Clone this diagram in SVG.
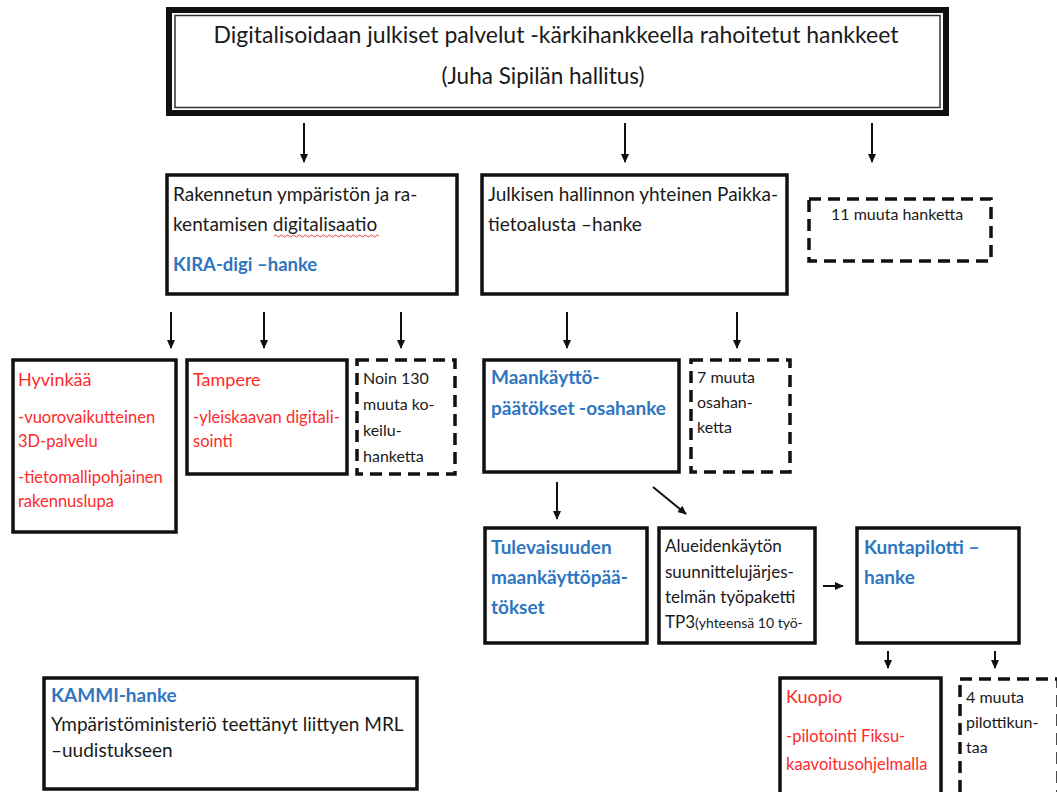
<svg xmlns="http://www.w3.org/2000/svg" width="1057" height="792" viewBox="0 0 1057 792">
  <defs>
    <marker id="ah" viewBox="0 0 10 10" refX="9" refY="5" markerWidth="4.5" markerHeight="4.5" orient="auto" markerUnits="strokeWidth">
      <path d="M0,0.5 L10,5 L0,9.5 Z" fill="#111"/>
    </marker>
    <style>
      text { font-family: Lato, "Liberation Sans", sans-serif; font-size: 16px; fill: #1a1a1a; }
      .box { fill: #fff; stroke: #111; stroke-width: 3.5; }
      .dash { fill: #fff; stroke: #111; stroke-width: 3.5; stroke-dasharray: 12 7; }
      .blue { fill: #2f76bf; font-weight: bold; font-size: 19px; }
      .red { fill: #ff2a2a; font-size: 16.5px; }
      .head { font-size: 18px; }
      .conn line { stroke: #111; stroke-width: 2; marker-end: url(#ah); }
    </style>
  </defs>
  <rect width="1057" height="792" fill="#fff"/>

  <!-- top programme box with double frame -->
  <g id="programme">
    <rect x="169" y="10" width="777" height="103" fill="#fff" stroke="#111" stroke-width="6"/>
    <rect x="175" y="15.5" width="765" height="92" fill="none" stroke="#333" stroke-width="1.5"/>
    <text x="556" y="43" text-anchor="middle" style="font-size:23px">Digitalisoidaan julkiset palvelut -kärkihankkeella rahoitetut hankkeet</text>
    <text x="543" y="84" text-anchor="middle" style="font-size:22.5px">(Juha Sipilän hallitus)</text>
  </g>

  <g class="conn" id="connectors">
    <line x1="304" y1="123" x2="304" y2="162"/>
    <line x1="625" y1="123" x2="625" y2="162"/>
    <line x1="872" y1="123" x2="872" y2="162"/>
    <line x1="171" y1="312" x2="171" y2="348"/>
    <line x1="264" y1="312" x2="264" y2="348"/>
    <line x1="401" y1="312" x2="401" y2="348"/>
    <line x1="567" y1="312" x2="567" y2="348"/>
    <line x1="737" y1="312" x2="737" y2="348"/>
    <line x1="557" y1="482" x2="557" y2="519"/>
    <line x1="653" y1="487" x2="686" y2="514"/>
    <line x1="823" y1="586" x2="843" y2="586"/>
    <line x1="888" y1="651" x2="888" y2="668"/>
    <line x1="995" y1="651" x2="995" y2="668"/>
  </g>

  <g id="kira">
    <rect class="box" x="167" y="175" width="290" height="119"/>
    <text x="173" y="201" style="font-size:19px">Rakennetun ympäristön ja ra-</text>
    <text x="173" y="231" style="font-size:19px">kentamisen digitalisaatio</text>
    <!-- spelling underline -->
    <path d="M274,236 q1.5,-2 3,0 t3,0 t3,0 t3,0 t3,0 t3,0 t3,0 t3,0 t3,0 t3,0 t3,0 t3,0 t3,0 t3,0 t3,0 t3,0 t3,0 t3,0 t3,0 t3,0 t3,0 t3,0 t3,0 t3,0 t3,0 t3,0 t3,0 t3,0 t3,0 t3,0 t3,0 t3,0 t3,0 t3,0 t3,0" fill="none" stroke="#e03030" stroke-width="0.9"/>
    <text x="173" y="271" class="blue" style="font-size:18.5px">KIRA-digi –hanke</text>
  </g>

  <g id="paikkatieto">
    <rect class="box" x="482" y="175" width="305" height="119"/>
    <text x="488" y="201" style="font-size:19px">Julkisen hallinnon yhteinen Paikka-</text>
    <text x="488" y="231" style="font-size:19px">tietoalusta –hanke</text>
  </g>

  <g id="muut-hankkeet">
    <rect class="dash" x="809" y="199" width="182" height="62"/>
    <text x="831" y="220" style="font-size:16px">11 muuta hanketta</text>
  </g>

  <g id="hyvinkaa">
    <rect class="box" x="13" y="360" width="163" height="172"/>
    <text x="18" y="386" class="red head">Hyvinkää</text>
    <text x="18" y="423" class="red">-vuorovaikutteinen</text>
    <text x="18" y="447" class="red">3D-palvelu</text>
    <text x="18" y="483" class="red">-tietomallipohjainen</text>
    <text x="18" y="507" class="red">rakennuslupa</text>
  </g>

  <g id="tampere">
    <rect class="box" x="187" y="360" width="160" height="114"/>
    <text x="193" y="386" class="red head">Tampere</text>
    <text x="193" y="423" class="red">-yleiskaavan digitali-</text>
    <text x="193" y="447" class="red">sointi</text>
  </g>

  <g id="kokeiluhankkeet">
    <rect class="dash" x="357" y="360" width="98" height="114"/>
    <text x="363" y="384">Noin 130</text>
    <text x="363" y="410">muuta ko-</text>
    <text x="363" y="436">keilu-</text>
    <text x="363" y="462">hanketta</text>
  </g>

  <g id="maankaytto">
    <rect class="box" x="484" y="360" width="195" height="112"/>
    <text x="491" y="384" class="blue">Maankäyttö-</text>
    <text x="491" y="415" class="blue">päätökset -osahanke</text>
  </g>

  <g id="osahankkeet">
    <rect class="dash" x="691" y="360" width="99" height="112"/>
    <text x="697" y="383">7 muuta</text>
    <text x="697" y="408">osahan-</text>
    <text x="697" y="433">ketta</text>
  </g>

  <g id="tulevaisuus">
    <rect class="box" x="485" y="528" width="162" height="115"/>
    <text x="491" y="554" class="blue">Tulevaisuuden</text>
    <text x="491" y="584" class="blue">maankäyttöpää-</text>
    <text x="491" y="614" class="blue">tökset</text>
  </g>

  <g id="alueidenkaytto">
    <rect class="box" x="659" y="528" width="156" height="115"/>
    <text x="665" y="552" style="font-size:17px">Alueidenkäytön</text>
    <text x="665" y="578" style="font-size:17px">suunnittelujärjes-</text>
    <text x="665" y="603" style="font-size:17px">telmän työpaketti</text>
    <text x="665" y="628" style="font-size:17px">TP3<tspan style="font-size:14px">(yhteensä 10 työ-</tspan></text>
  </g>

  <g id="kuntapilotti">
    <rect class="box" x="857" y="528" width="162" height="115"/>
    <text x="864" y="554" class="blue">Kuntapilotti –</text>
    <text x="864" y="584" class="blue">hanke</text>
  </g>

  <g id="kuopio">
    <rect class="box" x="780" y="678" width="161" height="120"/>
    <text x="786" y="703" class="red head">Kuopio</text>
    <text x="786" y="742" class="red">-pilotointi Fiksu-</text>
    <text x="786" y="770" class="red">kaavoitusohjelmalla</text>
  </g>

  <g id="pilottikunnat">
    <rect class="dash" x="960" y="679" width="98" height="120"/>
    <text x="966" y="703">4 muuta</text>
    <text x="966" y="728">pilottikun-</text>
    <text x="966" y="753">taa</text>
  </g>

  <g id="kammi">
    <rect class="box" x="44" y="678" width="373" height="111"/>
    <text x="51" y="702" class="blue">KAMMI-hanke</text>
    <text x="51" y="731" style="font-size:19px">Ympäristöministeriö teettänyt liittyen MRL</text>
    <text x="51" y="757" style="font-size:19px">–uudistukseen</text>
  </g>
</svg>
